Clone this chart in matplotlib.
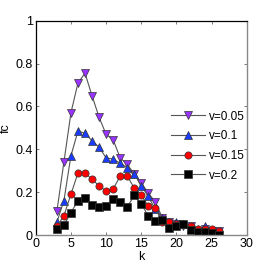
import matplotlib
matplotlib.use("Agg")
import matplotlib.pyplot as plt

k = list(range(3, 27))
v005 = [0.11, 0.34, 0.57, 0.71, 0.755, 0.65, 0.55, 0.47, 0.445, 0.36, 0.33, 0.285, 0.245, 0.195, 0.155,
        0.08, 0.06, 0.05, 0.04, 0.04, -0.005, 0.03, 0.02, 0.02]
v01 = [0.06, 0.16, 0.37, 0.485, 0.475, 0.44, 0.41, 0.36, 0.355, 0.335, 0.315, 0.285, 0.23, 0.18, 0.12,
       0.08, 0.06, 0.06, 0.05, 0.03, 0.03, 0.04, 0.02, 0.01]
v015 = [0.04, 0.09, 0.19, 0.29, 0.29, 0.26, 0.23, 0.205, 0.215, 0.275, 0.275, 0.22, 0.185, 0.135, 0.125,
        0.06, 0.06, 0.05, 0.05, 0.04, 0.03, 0.03, 0.03, 0.02]
v02 = [0.03, 0.045, 0.105, 0.16, 0.175, 0.14, 0.13, 0.135, 0.17, 0.155, 0.13, 0.185, 0.145, 0.09, 0.065,
       0.072, 0.035, 0.04, 0.05, 0.023, 0.012, 0.012, 0.01, 0.0]
labels = ["v=0.05", "v=0.1", "v=0.15", "v=0.2"]
xticks = [0, 5, 10, 15, 20, 25, 30]
yticks = [0, 0.2, 0.4, 0.6, 0.8, 1]
yticklabels = ["0", "0.2", "0.4", "0.6", "0.8", "1"]

plt.rcParams['font.family'] = ['Liberation Sans', 'DejaVu Sans']
fig = plt.figure(figsize=(2.73, 2.73), dpi=100)
ax = fig.add_axes([0.131, 0.139, 0.773, 0.785])

styles = [
    dict(marker='v', mfc='#9933ff'),
    dict(marker='^', mfc='#1a3cff'),
    dict(marker='o', mfc='#ff0000'),
    dict(marker='s', mfc='#000000'),
]
series = [v005, v01, v015, v02]
for ys, st, lab in zip(series, styles, labels):
    ax.plot(k, ys, color='#555555', lw=0.8, marker=st['marker'], mfc=st['mfc'],
            mec='#333333', mew=0.5, ms=5.2, label=lab)

ax.set_xlim(0, 30)
ax.set_ylim(0, 1)
ax.set_xticks(xticks)
ax.set_yticks(yticks)
ax.set_yticklabels(yticklabels)
ax.tick_params(direction='in', length=2.5, width=0.6, labelsize=9, top=True, right=True,
               color='#666666', pad=2)
ax.set_xlabel('k', fontsize=9, labelpad=1)
ax.set_ylabel('fc', fontsize=9)
ax.yaxis.set_label_coords(-0.115, 0.5)
for s in ['top', 'left']:
    ax.spines[s].set_color('black')
    ax.spines[s].set_linewidth(0.9)
for s in ['right', 'bottom']:
    ax.spines[s].set_color('#888888')
    ax.spines[s].set_linewidth(1.0)

leg = ax.legend(loc='center left', bbox_to_anchor=(0.64, 0.415), frameon=False, fontsize=8.5,
                handlelength=2.9, handletextpad=0.3, labelspacing=0.65, borderpad=0,
                borderaxespad=0)
fig.savefig('out.png', dpi=100)
